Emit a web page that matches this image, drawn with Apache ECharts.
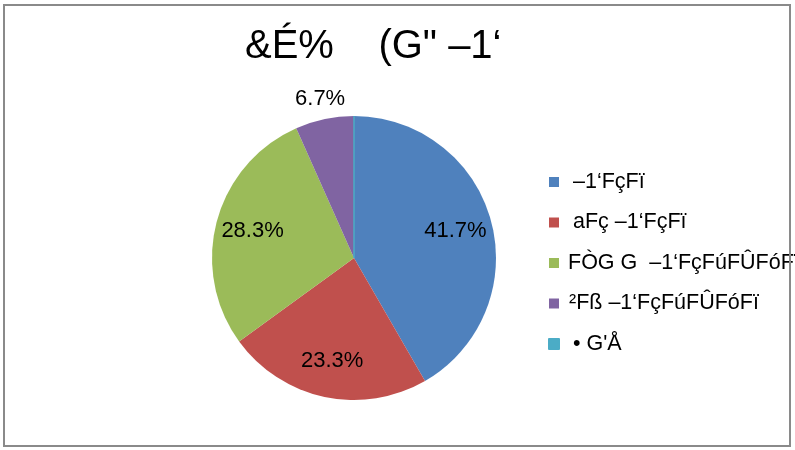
<!DOCTYPE html>
<html>
<head>
<meta charset="utf-8">
<script src="https://cdn.jsdelivr.net/npm/echarts@6/dist/echarts.min.js"></script>
<style>
html,body{margin:0;padding:0;background:#fff;}
#chart{width:795px;height:450px;}
</style>
</head>
<body>
<div id="chart"></div>
<script>
var titleText = '&É%    (G" –1‘';
var categories = ['–1‘FçFï', 'aFç –1‘FçFï', 'FÒG G  –1‘FçFúFÛFóFï', '²Fß –1‘FçFúFÛFóFï', '• G\'Å'];
var values = [25, 14, 17, 4, 0];
var colors = ['#4F81BD', '#C0504D', '#9BBB59', '#8064A2', '#4BACC6'];

var total = values.reduce(function (a, b) { return a + b; }, 0);
function pct(v) { return (v / total * 100).toFixed(1) + '%'; }

var FONT = 'Liberation Sans, Arial, sans-serif';
var center = [354, 258];

var mainData = categories.map(function (c, i) {
  var item = { name: c, value: values[i], itemStyle: { color: colors[i] } };
  if (values[i] === 0) { item.itemStyle.borderColor = colors[i]; item.itemStyle.borderWidth = 1; }
  return item;
});
var innerLabelData = categories.map(function (c, i) {
  return { name: c, value: values[i], label: { show: i < 3 } };
});
var outerLabelData = categories.map(function (c, i) {
  return { name: c, value: values[i], label: { show: i === 3 } };
});

var legendPad = [9, 9, 4, 5, 9];
var chart = echarts.init(document.getElementById('chart'), null, { renderer: 'canvas' });
chart.setOption({
  animation: false,
  backgroundColor: '#ffffff',
  title: {
    text: titleText,
    left: 245,
    top: 27,
    padding: 0,
    textStyle: { fontFamily: FONT, fontSize: 40, fontWeight: 'normal', color: '#000' }
  },
  legend: {
    orient: 'vertical',
    left: 548,
    top: 171,
    padding: 0,
    itemWidth: 10,
    itemHeight: 10,
    itemGap: 18.5,
    icon: 'rect',
    selectedMode: false,
    data: categories.map(function (c, i) {
      return { name: c, textStyle: { padding: [0, 0, 0, legendPad[i]] } };
    }),
    textStyle: { fontFamily: FONT, fontSize: 21.5, color: '#000', lineHeight: 20 }
  },
  graphic: [{
    type: 'rect',
    shape: { x: 4, y: 5, width: 786, height: 441 },
    style: { fill: 'none', stroke: '#8a8a8a', lineWidth: 2 },
    z: 100
  }],
  series: [{
    type: 'pie',
    center: center,
    radius: [0, 142],
    startAngle: 90,
    clockwise: true,
    stillShowZeroSum: true,
    label: { show: false },
    labelLine: { show: false },
    emphasis: { disabled: true },
    itemStyle: { borderWidth: 0 },
    data: mainData
  }, {
    type: 'pie',
    center: center,
    radius: [62, 142],
    startAngle: 90,
    silent: true,
    itemStyle: { color: 'rgba(0,0,0,0)' },
    label: {
      position: 'inside',
      fontFamily: FONT, fontSize: 22, color: '#000',
      formatter: function (p) { return pct(p.value); }
    },
    labelLine: { show: false },
    emphasis: { disabled: true },
    data: innerLabelData
  }, {
    type: 'pie',
    center: center,
    radius: [150, 170],
    startAngle: 90,
    silent: true,
    itemStyle: { color: 'rgba(0,0,0,0)' },
    label: {
      position: 'inside',
      fontFamily: FONT, fontSize: 22, color: '#000',
      formatter: function (p) { return pct(p.value); }
    },
    labelLine: { show: false },
    emphasis: { disabled: true },
    data: outerLabelData
  }]
});
</script>
</body>
</html>
